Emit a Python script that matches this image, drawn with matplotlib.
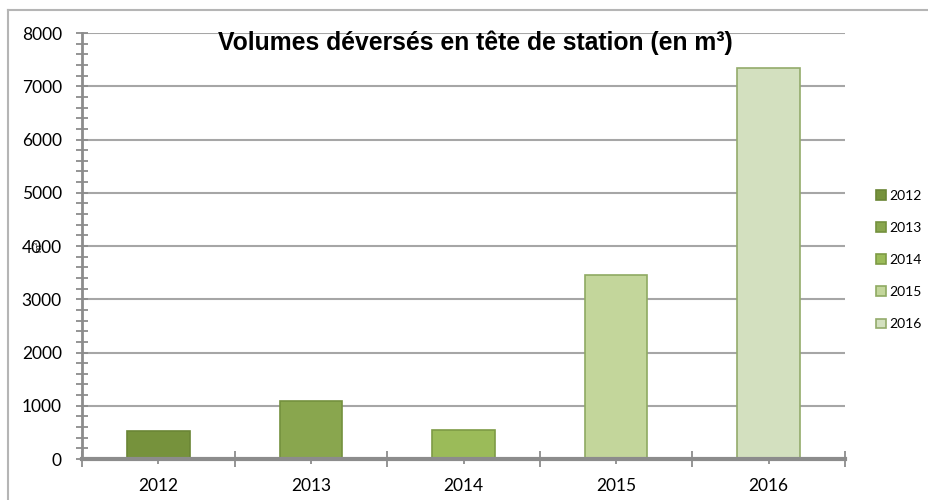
import matplotlib.pyplot as plt
from matplotlib.lines import Line2D
from matplotlib.ticker import MultipleLocator, FixedLocator

years = ["2012", "2013", "2014", "2015", "2016"]
volumes = [530, 1080, 540, 3460, 7340]
colors = ["#76923C", "#89A64E", "#9BBB59", "#C3D69B", "#D3E0BF"]
edges = ["#6A8535", "#74913E", "#7E9B45", "#8FAA62", "#93AB6B"]

fig = plt.figure(figsize=(9.29, 5.0), dpi=100)
ax = fig.add_axes([82 / 929, 41 / 500, 763 / 929, 426 / 500])

x = list(range(len(years)))
for i in x:
    ax.bar(i, volumes[i], width=0.41, color=colors[i], edgecolor=edges[i],
           linewidth=1.2, label=years[i], zorder=3)

ax.set_xlim(-0.5, 4.5)
ax.set_ylim(0, 8000)

# y axis: major every 1000 with grid, minor every 200
ax.yaxis.set_major_locator(MultipleLocator(1000))
ax.yaxis.set_minor_locator(MultipleLocator(200))
ax.grid(axis="y", color="#a6a6a6", linewidth=1.5, zorder=0)
ax.tick_params(axis="y", which="major", direction="inout", length=9, width=1.3,
               color="#8c8c8c", labelsize=12.5, pad=10)
ax.tick_params(axis="y", which="minor", direction="inout", length=9, width=1.3,
               color="#8c8c8c")

# x axis: labels at centres, ticks at category boundaries
ax.set_xticks(x)
ax.set_xticklabels(years)
ax.xaxis.set_minor_locator(FixedLocator([i - 0.5 for i in range(len(years) + 1)]))
ax.tick_params(axis="x", which="major", direction="inout", length=7, width=1.3,
               color="#8c8c8c", labelsize=12.5, pad=10)
ax.tick_params(axis="x", which="minor", direction="inout", length=11, width=1.3,
               color="#8c8c8c")
for lab in ax.get_xticklabels() + ax.get_yticklabels():
    lab.set_family("Lato")

ax.spines["top"].set_visible(False)
ax.spines["right"].set_visible(False)
ax.spines["left"].set_color("#8c8c8c")
ax.spines["left"].set_linewidth(2)
ax.spines["bottom"].set_color("#8c8c8c")
ax.spines["bottom"].set_linewidth(3)
ax.spines["bottom"].set_zorder(4)

ax.set_ylabel("m³", fontsize=7, family="Lato")
ax.yaxis.set_label_coords(-0.05, 0.5)

fig.text(475 / 929, 1 - 43 / 500, "Volumes déversés en tête de station (en m³)",
         ha="center", va="center", fontsize=17.8, fontweight="bold",
         family="Liberation Sans")

leg = fig.legend(loc="center left", bbox_to_anchor=(864 / 929, 1 - 260 / 500),
                 frameon=False, prop={"family": "Lato", "size": 10},
                 handlelength=0.7, handleheight=0.7, handletextpad=0.25,
                 labelspacing=1.45)

# outer chart border (top and left only visible)
fig.add_artist(Line2D([8 / 929, 1], [1 - 10 / 500, 1 - 10 / 500],
                      transform=fig.transFigure, color="#b5b5b5", linewidth=1.5))
fig.add_artist(Line2D([8 / 929, 8 / 929], [0, 1 - 10 / 500],
                      transform=fig.transFigure, color="#b5b5b5", linewidth=1.5))

fig.savefig("out.png", dpi=100)
